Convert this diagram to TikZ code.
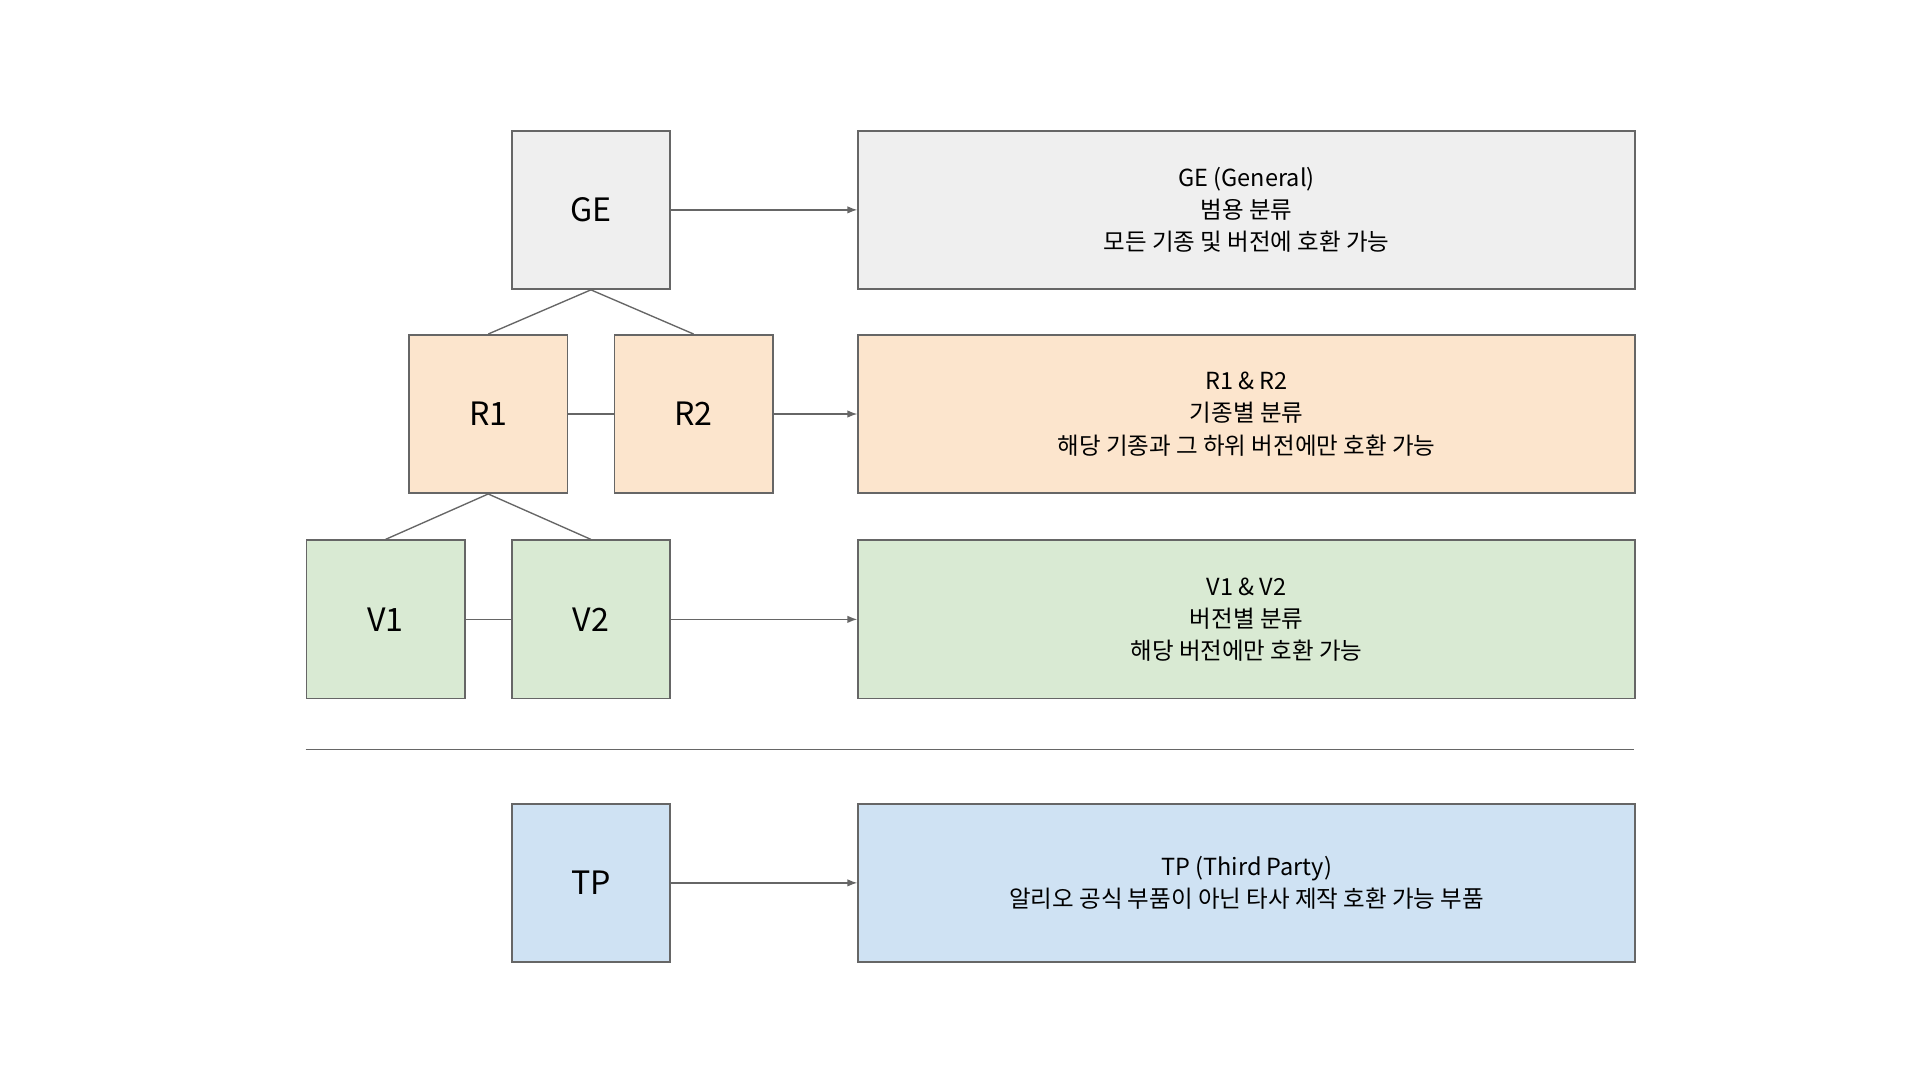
\documentclass[tikz,border=0pt]{standalone}
\usepackage{fontspec}
\setmainfont{Noto Sans CJK KR}
\usetikzlibrary{arrows.meta}
\definecolor{cge}{HTML}{EFEFEF}
\definecolor{cr}{HTML}{FCE5CD}
\definecolor{cv}{HTML}{D9EAD3}
\definecolor{ctp}{HTML}{CFE2F3}
\definecolor{bd}{HTML}{666666}
\begin{document}
\begin{tikzpicture}[x=1pt,y=-1pt,
  sq/.style={draw=bd,line width=1.3pt,minimum width=128pt,minimum height=128pt,inner sep=0pt,anchor=north west,font=\fontsize{26}{30}\selectfont},
  desc/.style={draw=bd,line width=1.3pt,minimum width=628pt,minimum height=128pt,inner sep=0pt,anchor=north west,align=center,font=\fontsize{19}{26}\selectfont},
  ln/.style={draw=bd,line width=1.1pt},
  ar/.style={ln,-{Latex[length=8pt,width=6pt]}}]
\useasboundingbox (0,0) rectangle (1552,873);
\node[sq,fill=cge] (ge) at (413,105) {GE};
\node[sq,fill=cr] (r1) at (330,270) {R1};
\node[sq,fill=cr] (r2) at (496,270) {R2};
\node[sq,fill=cv] (v1) at (247,436) {V1};
\node[sq,fill=cv] (v2) at (413,436) {V2};
\node[sq,fill=ctp] (tp) at (413,649) {TP};
\node[desc,fill=cge] (dge) at (693,105) {GE (General)\\범용 분류\\모든 기종 및 버전에 호환 가능};
\node[desc,fill=cr] (dr) at (693,270) {R1 \& R2\\기종별 분류\\해당 기종과 그 하위 버전에만 호환 가능};
\node[desc,fill=cv] (dv) at (693,436) {V1 \& V2\\버전별 분류\\해당 버전에만 호환 가능};
\node[desc,fill=ctp] (dtp) at (693,649) {TP (Third Party)\\알리오 공식 부품이 아닌 타사 제작 호환 가능 부품};
\path[ln] (ge.south) -- (r1.north);
\path[ln] (ge.south) -- (r2.north);
\path[ln] (r1.south) -- (v1.north);
\path[ln] (r1.south) -- (v2.north);
\path[ln] (r1.east) -- (r2.west);
\path[ln] (v1.east) -- (v2.west);
\path[ar] (ge.east) -- (dge.west);
\path[ar] (r2.east) -- (dr.west);
\path[ar] (v2.east) -- (dv.west);
\path[ar] (tp.east) -- (dtp.west);
\coordinate (s1) at (247,606);
\coordinate (s2) at (1321,606);
\path[ln] (s1) -- (s2);
\end{tikzpicture}
\end{document}
